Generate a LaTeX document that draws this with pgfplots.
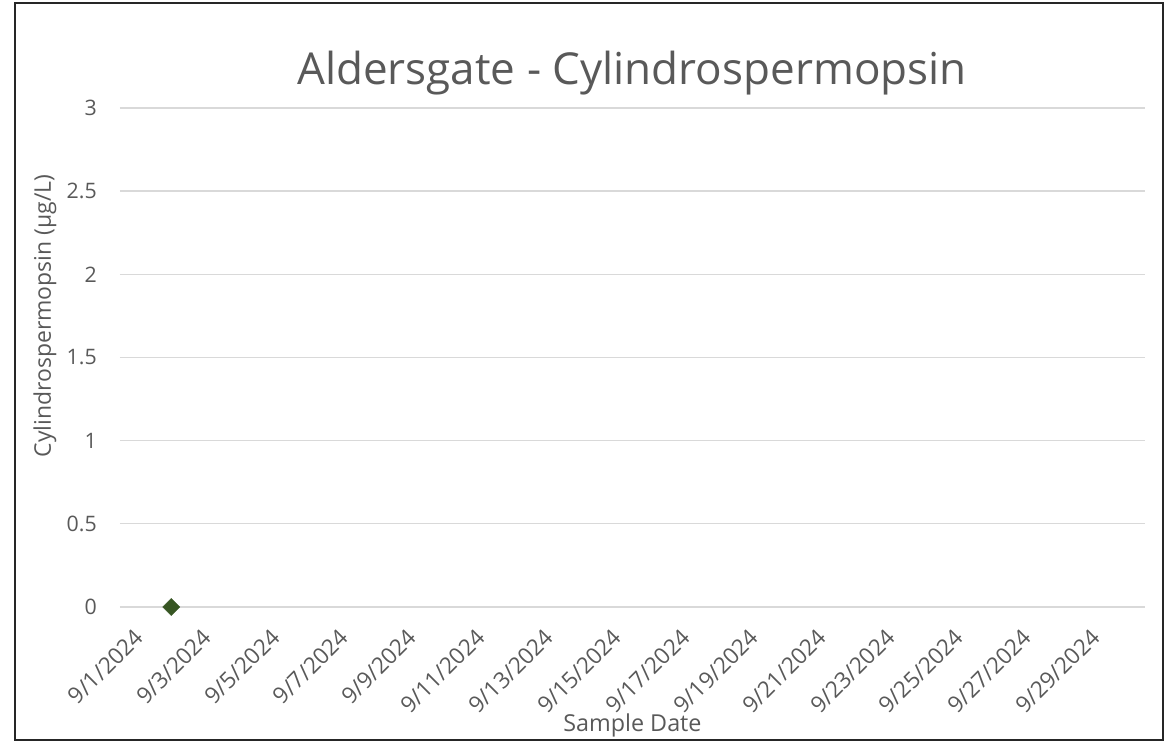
\documentclass[border=0pt]{standalone}
\usepackage{fontspec}
\setmainfont{Open Sans}
\usepackage{pgfplots}
\pgfplotsset{compat=1.18}
\definecolor{txt}{HTML}{595959}
\definecolor{gridc}{HTML}{D9D9D9}
\definecolor{mk}{HTML}{375623}
\begin{document}
\begin{tikzpicture}[x=0.75pt,y=0.75pt]
\useasboundingbox (0,0) rectangle (1165,741);
\draw[line width=1.3pt, black!85] (15,1) rectangle (1163,738);
\node[anchor=base, text=txt, font=\fontsize{33}{38}\selectfont] at (632,656) {Aldersgate - Cylindrospermopsin};
\begin{axis}[
  at={(90pt,100.5pt)}, anchor=south west,
  scale only axis, width=768.75pt, height=374.25pt,
  xmin=0.5, xmax=30.5, ymin=0, ymax=3,
  axis line style={draw=none},
  tick style={draw=none},
  ymajorgrids,
  grid style={gridc, line width=1pt},
  ytick={0,0.5,1,1.5,2,2.5,3},
  yticklabels={0,0.5,1,1.5,2,2.5,3},
  xtick={1,3,5,7,9,11,13,15,17,19,21,23,25,27,29},
  xticklabels={9/1/2024,9/3/2024,9/5/2024,9/7/2024,9/9/2024,9/11/2024,9/13/2024,9/15/2024,9/17/2024,9/19/2024,9/21/2024,9/23/2024,9/25/2024,9/27/2024,9/29/2024},
  yticklabel style={anchor=east, inner sep=0pt, xshift=-17.25pt, text=txt, font=\fontsize{16}{18}\selectfont},
  xticklabel style={xshift=-3pt, yshift=-15pt, rotate=45, anchor=north east, inner sep=0pt, text=txt, font=\fontsize{17}{19}\selectfont},
  xlabel={Sample Date},
  ylabel={Cylindrospermopsin (µg/L)},
  xlabel style={at={(axis description cs:0.5,-0.2365)}, anchor=center, text=txt, font=\fontsize{17.5}{19}\selectfont},
  ylabel style={at={(axis description cs:-0.0732,0.583)}, anchor=center, text=txt, font=\fontsize{17.2}{19}\selectfont},
  clip=false,
]
\addplot[only marks, mark=square*, mark size=4.5pt, mark options={rotate=45, fill=mk, draw=mk}] coordinates {(2,0)};
\end{axis}
\end{tikzpicture}
\end{document}
